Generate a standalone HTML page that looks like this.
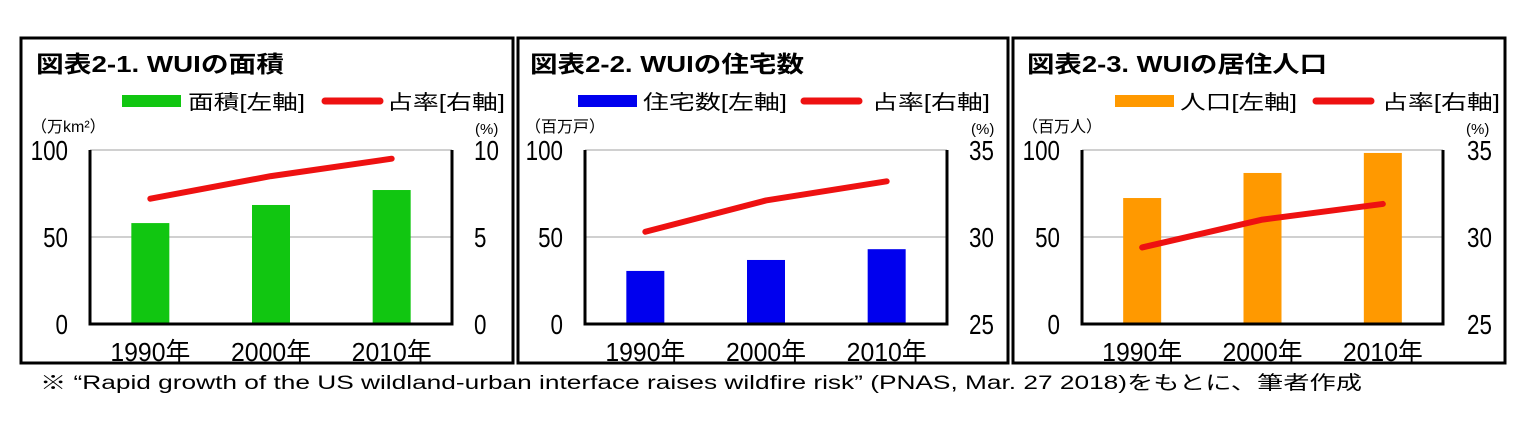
<!DOCTYPE html>
<html><head><meta charset="utf-8">
<style>
html,body{margin:0;padding:0;background:#fff;width:1530px;height:422px;overflow:hidden}
svg{display:block}
text{font-family:"Liberation Sans","Noto Sans CJK JP",sans-serif;fill:#000}
</style></head>
<body>
<svg id="chart" width="1530" height="422"></svg>
<script>
const categories = ["1990年","2000年","2010年"];
const areaValues = [58, 68.4, 77];
const areaShare = [7.2, 8.5, 9.5];
const housingValues = [30.5, 36.8, 43];
const housingShare = [30.3, 32.1, 33.2];
const popValues = [72.4, 86.8, 98.3];
const popShare = [29.4, 31.0, 31.9];
const leftTicks = [0, 50, 100];
const rightTicks1 = [0, 5, 10];
const rightTicks23 = [25, 30, 35];

const NS = "http://www.w3.org/2000/svg";
const svg = document.getElementById("chart");
function mk(tag, attrs, parent, txt){
  const e = document.createElementNS(NS, tag);
  for (const k in attrs) e.setAttribute(k, attrs[k]);
  if (txt !== undefined) e.textContent = txt;
  (parent||svg).appendChild(e);
  return e;
}

const panels = [
  {key:"area", box:[21,38,492,325], plot:[90,452], title:"図表2-1. WUIの面積", titleX:36, titleW:248,
   barColor:"#11c611", legBar:[122,188,117], legLine:[322,387,118], legText:"面積[左軸]",
   unitL:"（万km²）", unitLX:31, unitRX:475, tickLX:68, tickRX:474,
   values:areaValues, share:areaShare, rticks:rightTicks1},
  {key:"housing", box:[518,38,490,325], plot:[585,947], title:"図表2-2. WUIの住宅数", titleX:530, titleW:274,
   barColor:"#0000ee", legBar:[578,643,144], legLine:[801,872,118], legText:"住宅数[左軸]",
   unitL:"（百万戸）", unitLX:525, unitRX:971, tickLX:563, tickRX:969,
   values:housingValues, share:housingShare, rticks:rightTicks23},
  {key:"population", box:[1013,38,492,325], plot:[1082,1443], title:"図表2-3. WUIの居住人口", titleX:1027, titleW:300,
   barColor:"#ff9900", legBar:[1115,1180,117], legLine:[1313,1382,118], legText:"人口[左軸]",
   unitL:"（百万人）", unitLX:1022, unitRX:1466, tickLX:1060, tickRX:1467,
   values:popValues, share:popShare, rticks:rightTicks23}
];

const yTop = 150, yBot = 324;
panels.forEach(p => {
  const g = mk("g", {});
  
  
  const [bx,by,bw,bh] = p.box;
  const frame = mk("rect", {x:bx, y:by, width:bw, height:bh, fill:"none", stroke:"#000", "stroke-width":3}, g);
  
  
  const t = mk("text", {x:p.titleX, y:72, "font-size":23, "font-weight":"bold", textLength:p.titleW, lengthAdjust:"spacingAndGlyphs"}, g, p.title);
  
  

  const lb = mk("rect", {x:p.legBar[0], y:95, width:59, height:12, fill:p.barColor}, g);
  
  
  const lt = mk("text", {x:p.legBar[1], y:109, "font-size":20, textLength:p.legBar[2], lengthAdjust:"spacingAndGlyphs"}, g, p.legText);
  
  
  const ll = mk("line", {x1:p.legLine[0]+3, y1:101, x2:p.legLine[0]+58, y2:101, stroke:"#ee1111", "stroke-width":7, "stroke-linecap":"round"}, g);
  
  
  const lt2 = mk("text", {x:p.legLine[1], y:109, "font-size":20, textLength:p.legLine[2], lengthAdjust:"spacingAndGlyphs"}, g, "占率[右軸]");
  
  

  const ul = mk("text", {x:p.unitLX, y:132, "font-size":16}, g, p.unitL);
  
  
  const ur = mk("text", {x:p.unitRX, y:134, "font-size":15}, g, "(%)");
  
  

  const [x0,x1] = p.plot;
  const yL = v => yBot - (v - leftTicks[0])/(leftTicks[leftTicks.length-1]-leftTicks[0])*(yBot-yTop);
  const rmin = p.rticks[0], rmax = p.rticks[p.rticks.length-1];
  const yR = v => yBot - (v - rmin)/(rmax-rmin)*(yBot-yTop);
  const band = (x1-x0)/categories.length;
  const xC = i => x0 + band*(i+0.5);

  leftTicks.forEach(v => {
    if (v === leftTicks[0]) return;
    const gl = mk("line", {x1:x0, y1:yL(v), x2:x1, y2:yL(v), stroke:"#d0d0d0", "stroke-width":2}, g);
    
    
  });
  leftTicks.forEach(v => {
    const tx = mk("text", {x:p.tickLX, y:yL(v)+10, "font-size":28, "text-anchor":"end", transform:`translate(${p.tickLX},0) scale(0.8,1) translate(${-p.tickLX},0)`}, g, String(v));
    
    
  });
  p.rticks.forEach(v => {
    const tx = mk("text", {x:p.tickRX, y:yR(v)+10, "font-size":28, transform:`translate(${p.tickRX},0) scale(0.8,1) translate(${-p.tickRX},0)`}, g, String(v));
    
    
  });

  p.values.forEach((v,i) => {
    const b = mk("rect", {x:xC(i)-19, y:yL(v), width:38, height:yBot-yL(v), fill:p.barColor}, g);
    
    
  });
  const ax = mk("path", {d:`M${x0},${yTop} L${x0},${yBot} L${x1},${yBot} L${x1},${yTop}`, fill:"none", stroke:"#000", "stroke-width":3}, g);
  
  

  const pts = p.share.map((v,i) => `${xC(i)},${yR(v)}`).join(" ");
  const pl = mk("polyline", {points:pts, fill:"none", stroke:"#ee1111", "stroke-width":6, "stroke-linecap":"round", "stroke-linejoin":"round"}, g);
  
  

  categories.forEach((c,i) => {
    const cx = xC(i);
    const tx = mk("text", {x:cx, y:361, "font-size":26, "text-anchor":"middle", textLength:80, lengthAdjust:"spacingAndGlyphs"}, g, c);
    
    
  });
});

const fn = mk("text", {x:40, y:389, "font-size":19, textLength:1322, lengthAdjust:"spacingAndGlyphs"}, svg,
  "※ “Rapid growth of the US wildland-urban interface raises wildfire risk” (PNAS, Mar. 27 2018)をもとに、筆者作成");


</script>
</body></html>
